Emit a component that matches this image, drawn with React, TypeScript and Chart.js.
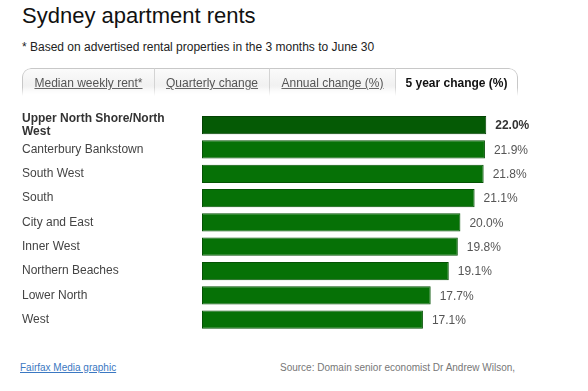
import React, { useEffect, useRef } from "react";
import { Chart, registerables } from "chart.js";

Chart.register(...registerables);

const categories: (string | string[])[] = [
  ["Upper North Shore/North", "West"],
  "Canterbury Bankstown",
  "South West",
  "South",
  "City and East",
  "Inner West",
  "Northern Beaches",
  "Lower North",
  "West",
];
const fiveYearChange = [22.0, 21.9, 21.8, 21.1, 20.0, 19.8, 19.1, 17.7, 17.1];
const tabs = ["Median weekly rent*", "Quarterly change", "Annual change (%)", "5 year change (%)"];
const activeTab = 3;

const FONT = "'Liberation Sans', Arial, Helvetica, sans-serif";

const valueLabels = {
  id: "valueLabels",
  afterDatasetsDraw(chart: any) {
    const { ctx } = chart;
    const meta = chart.getDatasetMeta(0);
    ctx.save();
    ctx.textBaseline = "middle";
    ctx.textAlign = "left";
    meta.data.forEach((bar: any, i: number) => {
      const v = chart.data.datasets[0].data[i] as number;
      ctx.font = (i === 0 ? "bold " : "") + "12px " + FONT;
      ctx.fillStyle = i === 0 ? "#333333" : "#555555";
      ctx.fillText(v.toFixed(1) + "%", bar.x + 9, bar.y + 1);
    });
    ctx.restore();
  },
};

function BarChart() {
  const ref = useRef<HTMLCanvasElement>(null);
  useEffect(() => {
    if (!ref.current) return;
    const chart = new Chart(ref.current, {
      type: "bar",
      data: {
        labels: categories,
        datasets: [
          {
            data: fiveYearChange,
            backgroundColor: fiveYearChange.map((_, i) => (i === 0 ? "#055a05" : "#067106")),
            borderColor: fiveYearChange.map((_, i) => (i === 0 ? "#034203" : "#045204")),
            borderWidth: 1,
            borderSkipped: false,
            categoryPercentage: 1,
            barPercentage: 0.75,
          },
        ],
      },
      options: {
        indexAxis: "y",
        animation: false,
        responsive: false,
        maintainAspectRatio: false,
        layout: { padding: { left: 22, right: 63, top: 13, bottom: 0 } },
        plugins: { legend: { display: false }, tooltip: { enabled: false } },
        scales: {
          x: { display: false, min: 0, max: 25 },
          y: {
            grid: { display: false, drawTicks: false },
            border: { display: false },
            afterFit: (scale: any) => {
              scale.width = 180;
            },
            ticks: {
              autoSkip: false,
              crossAlign: "far",
              padding: 0,
              color: (c: any) => (c.index === 0 ? "#333333" : "#444444"),
              font: (c: any) => ({
                family: FONT,
                size: 12,
                weight: c.index === 0 ? "bold" : "normal",
                lineHeight: 1.1,
              }),
            },
          },
        },
      },
      plugins: [valueLabels],
    } as any);
    return () => chart.destroy();
  }, []);
  return (
    <canvas
      ref={ref}
      width={588}
      height={245}
      style={{ position: "absolute", left: 0, top: 100, width: 588, height: 245 }}
    />
  );
}

const tabWidths = [132, 115, 126, 123];

export default function App() {
  let x = 22;
  return (
    <div
      style={{
        position: "absolute",
        left: 0,
        top: 0,
        width: 588,
        height: 391,
        background: "#ffffff",
        fontFamily: FONT,
        overflow: "hidden",
      }}
    >
      <div style={{ position: "absolute", left: 22, top: 3, fontSize: 22, color: "#111", whiteSpace: "nowrap" }}>
        Sydney apartment rents
      </div>
      <div style={{ position: "absolute", left: 22, top: 40, fontSize: 12, color: "#222", whiteSpace: "nowrap" }}>
        * Based on advertised rental properties in the 3 months to June 30
      </div>
      {tabs.map((t, i) => {
        const left = x;
        x += tabWidths[i];
        const active = i === activeTab;
        return (
          <div
            key={t}
            style={{
              position: "absolute",
              left,
              top: 68,
              width: tabWidths[i],
              height: 28,
              boxSizing: "border-box",
              borderTop: "1px solid #c8c8c8",
              borderLeft: i === 0 ? "1px solid #c8c8c8" : "1px solid #d4d4d4",
              borderRight: i === tabs.length - 1 ? "1px solid #c8c8c8" : "none",
              borderTopLeftRadius: i === 0 ? 9 : 0,
              borderTopRightRadius: i === tabs.length - 1 ? 9 : 0,
              background: active
                ? "#ffffff"
                : "linear-gradient(to bottom, #fbfbfb 0%, #f1f1f1 60%, #ffffff 100%)",
              fontSize: 12,
              lineHeight: "28px",
              textAlign: "center",
              whiteSpace: "nowrap",
              color: active ? "#111" : "#555",
              fontWeight: active ? "bold" : "normal",
              textDecoration: active ? "none" : "underline",
              WebkitMaskImage: "linear-gradient(to bottom, #000 70%, transparent 100%)",
              maskImage: "linear-gradient(to bottom, #000 70%, transparent 100%)",
            }}
          >
            {t}
          </div>
        );
      })}
      <BarChart />
      <div
        style={{
          position: "absolute",
          left: 20,
          top: 362,
          fontSize: 10,
          color: "#3b78c2",
          textDecoration: "underline",
          whiteSpace: "nowrap",
        }}
      >
        Fairfax Media graphic
      </div>
      <div
        style={{ position: "absolute", left: 280, top: 362, fontSize: 10, color: "#777", whiteSpace: "nowrap" }}
      >
        Source: Domain senior economist Dr Andrew Wilson,
      </div>
    </div>
  );
}
